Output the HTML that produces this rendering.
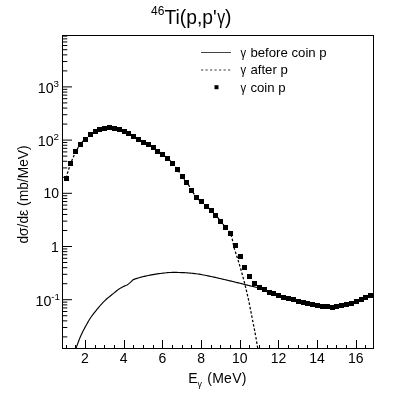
<!DOCTYPE html>
<html><head><meta charset="utf-8"><title>46Ti(p,p'γ)</title>
<style>html,body{margin:0;padding:0;background:#fff}svg{display:block;will-change:transform;filter:grayscale(1)}text{font-family:"Liberation Sans",sans-serif;fill:#000}</style></head><body>
<svg width="415" height="401" viewBox="0 0 415 401">
<rect x="0" y="0" width="415" height="401" fill="#fff"/>
<defs><clipPath id="c"><rect x="62.5" y="35.5" width="311.0" height="313.0"/></clipPath></defs>
<rect x="62.5" y="35.5" width="311.0" height="313.0" fill="none" stroke="#000" stroke-width="1" shape-rendering="crispEdges"/>
<path d="M66.50 348.5 V344.50 M75.50 348.5 V344.50 M85.50 348.5 V339.50 M95.50 348.5 V344.50 M104.50 348.5 V344.50 M114.50 348.5 V344.50 M124.50 348.5 V339.50 M133.50 348.5 V344.50 M143.50 348.5 V344.50 M153.50 348.5 V344.50 M162.50 348.5 V339.50 M172.50 348.5 V344.50 M182.50 348.5 V344.50 M191.50 348.5 V344.50 M201.50 348.5 V339.50 M211.50 348.5 V344.50 M220.50 348.5 V344.50 M230.50 348.5 V344.50 M240.50 348.5 V339.50 M249.50 348.5 V344.50 M259.50 348.5 V344.50 M269.50 348.5 V344.50 M278.50 348.5 V339.50 M288.50 348.5 V344.50 M298.50 348.5 V344.50 M307.50 348.5 V344.50 M317.50 348.5 V339.50 M327.50 348.5 V344.50 M336.50 348.5 V344.50 M346.50 348.5 V344.50 M356.50 348.5 V339.50 M365.50 348.5 V344.50" stroke="#000" stroke-width="1" fill="none" shape-rendering="crispEdges"/>
<path d="M62.5 336.89 H67.30 M62.5 327.52 H67.30 M62.5 320.87 H67.30 M62.5 315.71 H67.30 M62.5 311.50 H67.30 M62.5 307.94 H67.30 M62.5 304.86 H67.30 M62.5 302.13 H67.30 M62.5 299.70 H72.00 M62.5 283.69 H67.30 M62.5 274.32 H67.30 M62.5 267.67 H67.30 M62.5 262.51 H67.30 M62.5 258.30 H67.30 M62.5 254.74 H67.30 M62.5 251.66 H67.30 M62.5 248.93 H67.30 M62.5 246.50 H72.00 M62.5 230.49 H67.30 M62.5 221.12 H67.30 M62.5 214.47 H67.30 M62.5 209.31 H67.30 M62.5 205.10 H67.30 M62.5 201.54 H67.30 M62.5 198.46 H67.30 M62.5 195.73 H67.30 M62.5 193.30 H72.00 M62.5 177.29 H67.30 M62.5 167.92 H67.30 M62.5 161.27 H67.30 M62.5 156.11 H67.30 M62.5 151.90 H67.30 M62.5 148.34 H67.30 M62.5 145.26 H67.30 M62.5 142.53 H67.30 M62.5 140.10 H72.00 M62.5 124.09 H67.30 M62.5 114.72 H67.30 M62.5 108.07 H67.30 M62.5 102.91 H67.30 M62.5 98.70 H67.30 M62.5 95.14 H67.30 M62.5 92.06 H67.30 M62.5 89.33 H67.30 M62.5 86.90 H72.00 M62.5 70.89 H67.30 M62.5 61.52 H67.30 M62.5 54.87 H67.30 M62.5 49.71 H67.30 M62.5 45.50 H67.30 M62.5 41.94 H67.30 M62.5 38.86 H67.30 M62.5 36.13 H67.30" stroke="#000" stroke-width="1" fill="none"/>
<g clip-path="url(#c)" fill="none" stroke="#000" stroke-width="1">
<path d="M74.40 352.70 L74.91 351.29 L75.42 349.88 L75.93 348.48 L76.45 347.08 L76.96 345.67 L77.48 344.26 L77.99 342.85 L78.51 341.45 L79.05 340.05 L79.60 338.66 L80.17 337.28 L80.76 335.91 L81.38 334.55 L82.02 333.20 L82.68 331.85 L83.36 330.51 L84.05 329.18 L84.75 327.86 L85.46 326.54 L86.18 325.23 L86.90 323.92 L87.64 322.61 L88.39 321.31 L89.16 320.02 L89.95 318.75 L90.76 317.50 L91.61 316.28 L92.49 315.07 L93.41 313.89 L94.34 312.71 L95.28 311.54 L96.22 310.37 L97.16 309.21 L98.10 308.04 L99.06 306.89 L100.03 305.75 L101.01 304.63 L102.02 303.53 L103.06 302.44 L104.11 301.37 L105.18 300.32 L106.27 299.30 L107.39 298.31 L108.54 297.36 L109.72 296.43 L110.90 295.50 L112.06 294.57 L113.22 293.62 L114.38 292.67 L115.54 291.73 L116.71 290.79 L117.87 289.84 L119.06 288.93 L120.32 288.13 L121.64 287.42 L122.98 286.76 L124.35 286.14 L125.75 285.56 L127.10 284.93 L128.34 284.13 L129.50 283.18 L130.64 282.19 L131.72 281.10 L132.81 280.06 L134.04 279.34 L135.44 278.83 L136.91 278.40 L138.35 277.97 L139.79 277.56 L141.23 277.16 L142.68 276.78 L144.13 276.42 L145.59 276.08 L147.05 275.75 L148.52 275.44 L149.98 275.15 L151.46 274.88 L152.93 274.62 L154.41 274.38 L155.88 274.14 L157.36 273.90 L158.84 273.66 L160.32 273.45 L161.81 273.28 L163.30 273.12 L164.79 272.96 L166.28 272.80 L167.77 272.66 L169.26 272.54 L170.76 272.46 L172.25 272.41 L173.75 272.40 L175.24 272.41 L176.74 272.44 L178.24 272.47 L179.73 272.52 L181.23 272.57 L182.73 272.62 L184.22 272.68 L185.72 272.75 L187.21 272.84 L188.70 272.96 L190.19 273.10 L191.68 273.26 L193.17 273.42 L194.66 273.60 L196.14 273.78 L197.63 273.97 L199.10 274.19 L200.58 274.44 L202.06 274.70 L203.53 274.97 L205.00 275.25 L206.47 275.54 L207.94 275.83 L209.41 276.13 L210.87 276.44 L212.33 276.76 L213.79 277.10 L215.25 277.43 L216.71 277.78 L218.16 278.12 L219.62 278.45 L221.08 278.78 L222.54 279.12 L224.00 279.46 L225.46 279.80 L226.91 280.14 L228.37 280.48 L229.83 280.82 L231.28 281.17 L232.74 281.52 L234.19 281.87 L235.65 282.22 L237.10 282.57 L238.56 282.93 L240.01 283.29 L241.46 283.64 L242.92 284.00 L244.37 284.37 L245.82 284.73 L247.27 285.10 L248.72 285.47 L250.17 285.84 L251.62 286.20 L253.08 286.56 L254.53 286.90 L256.01 287.20 L257.49 287.49 L258.95 287.82 L260.35 288.26 L261.68 288.92 L262.99 289.68 L264.32 290.40 L265.68 291.02 L267.05 291.62 L268.43 292.20 L269.81 292.77 L271.19 293.36 L272.59 293.92 L274.00 294.40 L275.44 294.79 L276.90 295.12 L278.36 295.47 L279.79 295.89 L281.21 296.36 L282.63 296.85 L284.05 297.32 L285.48 297.77 L286.91 298.22 L288.34 298.65 L289.77 299.08 L291.21 299.50 L292.65 299.91 L294.09 300.31 L295.54 300.69 L296.98 301.08 L298.43 301.47 L299.86 301.90 L301.30 302.33 L302.74 302.73 L304.19 303.09 L305.65 303.42 L307.11 303.74 L308.57 304.06 L310.04 304.37 L311.50 304.67 L312.97 304.95 L314.45 305.22 L315.92 305.46 L317.40 305.68 L318.89 305.89 L320.37 306.07 L321.86 306.24 L323.35 306.41 L324.84 306.57 L326.32 306.72 L327.81 306.86 L329.31 307.02 L330.80 307.16 L332.29 307.20 L333.79 307.15 L335.28 307.04 L336.77 306.91 L338.25 306.70 L339.71 306.38 L341.17 306.02 L342.63 305.69 L344.09 305.34 L345.54 304.97 L346.98 304.57 L348.41 304.14 L349.84 303.69 L351.27 303.23 L352.69 302.77 L354.11 302.30 L355.53 301.83 L356.95 301.35 L358.37 300.87 L359.78 300.37 L361.18 299.84 L362.56 299.27 L363.93 298.67 L365.30 298.06 L366.66 297.44 L368.03 296.82 L369.38 296.20 L370.75 295.58 L372.12 294.99 L373.50 294.40" stroke-width="1.15"/>
<path d="M66.06 178.00 L66.45 176.55 L66.87 175.10 L67.30 173.66 L67.74 172.23 L68.19 170.80 L68.66 169.38 L69.15 167.96 L69.64 166.55 L70.14 165.14 L70.66 163.73 L71.18 162.33 L71.72 160.93 L72.27 159.54 L72.85 158.15 L73.44 156.76 L74.05 155.39 L74.68 154.03 L75.33 152.69 L76.01 151.36 L76.72 150.03 L77.45 148.72 L78.23 147.42 L79.04 146.15 L79.88 144.92 L80.77 143.74 L81.74 142.60 L82.77 141.51 L83.85 140.46 L84.95 139.42 L86.05 138.40 L87.16 137.40 L88.31 136.42 L89.47 135.48 L90.66 134.58 L91.89 133.71 L93.13 132.87 L94.41 132.08 L95.71 131.35 L97.04 130.64 L98.40 130.00 L99.79 129.44 L101.21 128.97 L102.65 128.54 L104.12 128.21 L105.59 127.97 L107.08 127.77 L108.58 127.63 L110.07 127.61 L111.57 127.74 L113.06 127.96 L114.53 128.22 L115.97 128.59 L117.40 129.07 L118.82 129.56 L120.26 130.00 L121.70 130.43 L123.13 130.87 L124.54 131.37 L125.94 131.92 L127.32 132.52 L128.66 133.17 L129.97 133.88 L131.25 134.67 L132.51 135.49 L133.77 136.31 L135.03 137.12 L136.28 137.94 L137.54 138.75 L138.82 139.54 L140.12 140.28 L141.43 141.01 L142.75 141.73 L144.06 142.44 L145.39 143.15 L146.71 143.85 L148.03 144.57 L149.33 145.31 L150.63 146.06 L151.91 146.84 L153.17 147.65 L154.40 148.50 L155.60 149.39 L156.81 150.29 L158.03 151.16 L159.28 151.99 L160.54 152.80 L161.80 153.62 L163.02 154.48 L164.20 155.40 L165.36 156.35 L166.50 157.32 L167.63 158.32 L168.74 159.32 L169.84 160.34 L170.92 161.39 L171.96 162.47 L172.95 163.58 L173.89 164.74 L174.79 165.94 L175.68 167.16 L176.55 168.38 L177.42 169.60 L178.28 170.83 L179.13 172.07 L179.96 173.32 L180.80 174.56 L181.66 175.78 L182.56 176.98 L183.49 178.16 L184.45 179.31 L185.41 180.47 L186.33 181.65 L187.20 182.86 L188.02 184.11 L188.81 185.38 L189.58 186.67 L190.35 187.96 L191.13 189.25 L191.93 190.52 L192.72 191.80 L193.50 193.10 L194.29 194.39 L195.12 195.65 L195.99 196.85 L196.95 197.96 L198.02 198.98 L199.18 199.94 L200.36 200.89 L201.52 201.86 L202.66 202.84 L203.79 203.81 L204.92 204.80 L206.05 205.78 L207.17 206.78 L208.29 207.78 L209.40 208.78 L210.50 209.80 L211.58 210.84 L212.66 211.88 L213.73 212.93 L214.78 214.01 L215.79 215.11 L216.76 216.24 L217.69 217.41 L218.60 218.61 L219.50 219.81 L220.41 221.01 L221.34 222.18 L222.28 223.35 L223.23 224.51 L224.17 225.68 L225.11 226.84 L226.06 228.01 L227.09 229.16 L228.13 230.30 L229.12 231.46 L229.97 232.65 L230.61 233.92 L231.12 235.25 L231.57 236.63 L231.97 238.06 L232.33 239.52 L232.66 241.01 L232.98 242.51 L233.29 244.01 L233.62 245.51 L233.97 247.00 L234.36 248.46 L234.78 249.89 L235.21 251.33 L235.66 252.76 L236.12 254.18 L236.59 255.61 L237.05 257.03 L237.52 258.46 L237.98 259.89 L238.44 261.31 L238.88 262.75 L239.31 264.18 L239.74 265.62 L240.16 267.06 L240.58 268.50 L240.99 269.94 L241.40 271.38 L241.81 272.82 L242.22 274.26 L242.62 275.71 L243.01 277.16 L243.40 278.60 L243.78 280.05 L244.16 281.50 L244.54 282.95 L244.90 284.40 L245.27 285.86 L245.63 287.31 L245.98 288.77 L246.33 290.23 L246.68 291.69 L247.02 293.15 L247.36 294.61 L247.69 296.07 L248.02 297.53 L248.34 298.99 L248.66 300.46 L248.98 301.92 L249.28 303.39 L249.58 304.86 L249.87 306.33 L250.16 307.80 L250.45 309.27 L250.73 310.74 L251.01 312.21 L251.30 313.69 L251.58 315.16 L251.87 316.63 L252.16 318.10 L252.45 319.57 L252.75 321.04 L253.05 322.51 L253.34 323.98 L253.64 325.45 L253.93 326.92 L254.22 328.39 L254.51 329.86 L254.79 331.33 L255.07 332.80 L255.34 334.28 L255.60 335.75 L255.86 337.23 L256.11 338.71 L256.36 340.18 L256.61 341.66 L256.85 343.14 L257.10 344.62 L257.35 346.10 L257.61 347.57 L257.87 349.05 L258.13 350.53 L258.40 352.00" stroke-dasharray="2.5 1.9" stroke-width="1.25"/>
</g>
<path d="M63.56 175.50h5v5h-5zM68.39 160.60h5v5h-5zM73.23 149.40h5v5h-5zM78.06 141.50h5v5h-5zM82.90 136.50h5v5h-5zM87.74 132.40h5v5h-5zM92.57 129.20h5v5h-5zM97.41 126.90h5v5h-5zM102.24 125.60h5v5h-5zM107.08 125.10h5v5h-5zM111.91 125.70h5v5h-5zM116.75 127.20h5v5h-5zM121.59 128.70h5v5h-5zM126.42 130.80h5v5h-5zM131.26 133.80h5v5h-5zM136.09 136.90h5v5h-5zM140.93 139.60h5v5h-5zM145.76 142.20h5v5h-5zM150.60 145.10h5v5h-5zM155.44 148.60h5v5h-5zM160.27 151.80h5v5h-5zM165.11 155.80h5v5h-5zM169.94 160.50h5v5h-5zM174.78 166.90h5v5h-5zM179.62 173.90h5v5h-5zM184.45 180.00h5v5h-5zM189.29 187.80h5v5h-5zM194.12 195.10h5v5h-5zM198.96 199.30h5v5h-5zM203.79 203.50h5v5h-5zM208.63 207.90h5v5h-5zM213.47 212.80h5v5h-5zM218.30 219.00h5v5h-5zM223.14 225.00h5v5h-5zM227.97 231.10h5v5h-5zM232.81 242.70h5v5h-5zM237.64 254.30h5v5h-5zM242.48 265.20h5v5h-5zM247.32 274.30h5v5h-5zM252.15 280.80h5v5h-5zM256.99 284.60h5v5h-5zM261.82 287.40h5v5h-5zM266.66 289.50h5v5h-5zM271.49 291.40h5v5h-5zM276.33 292.90h5v5h-5zM281.17 294.50h5v5h-5zM286.00 296.00h5v5h-5zM290.84 297.40h5v5h-5zM295.67 298.70h5v5h-5zM300.51 300.10h5v5h-5zM305.34 301.20h5v5h-5zM310.18 302.20h5v5h-5zM315.02 303.00h5v5h-5zM319.85 303.60h5v5h-5zM324.69 304.10h5v5h-5zM329.52 304.50h5v5h-5zM334.36 304.20h5v5h-5zM339.19 303.20h5v5h-5zM344.03 302.00h5v5h-5zM348.87 300.50h5v5h-5zM353.70 298.90h5v5h-5zM358.54 297.20h5v5h-5zM363.37 295.10h5v5h-5zM368.21 292.90h5v5h-5z" fill="#000" shape-rendering="crispEdges"/>
<text x="85.00" y="363.2" font-size="14" text-anchor="middle">2</text>
<text x="123.69" y="363.2" font-size="14" text-anchor="middle">4</text>
<text x="162.37" y="363.2" font-size="14" text-anchor="middle">6</text>
<text x="201.06" y="363.2" font-size="14" text-anchor="middle">8</text>
<text x="239.74" y="363.2" font-size="14" text-anchor="middle">10</text>
<text x="278.43" y="363.2" font-size="14" text-anchor="middle">12</text>
<text x="317.12" y="363.2" font-size="14" text-anchor="middle">14</text>
<text x="355.80" y="363.2" font-size="14" text-anchor="middle">16</text>
<text x="53.60" y="87.00" font-size="9.8">3</text>
<text x="53.70" y="93.00" font-size="14.3" text-anchor="end">10</text>
<text x="53.60" y="140.20" font-size="9.8">2</text>
<text x="53.70" y="146.20" font-size="14.3" text-anchor="end">10</text>
<text x="59.1" y="198.30" font-size="14" text-anchor="end">10</text>
<text x="58.9" y="251.50" font-size="14" text-anchor="end">1</text>
<text x="51.30" y="299.80" font-size="9.8">-1</text>
<text x="51.40" y="305.80" font-size="14.3" text-anchor="end">10</text>
<text x="151.0" y="15.0" font-size="12">46</text>
<text x="164.4" y="24.1" font-size="19.3">Ti(p,p'</text>
<text x="217.2" y="24.1" font-size="19.3" textLength="7.9" lengthAdjust="spacingAndGlyphs">γ</text>
<text x="225.1" y="24.1" font-size="19.3">)</text>
<text x="188.3" y="383.0" font-size="14">E</text>
<text x="197.6" y="386.6" font-size="9.5" textLength="4.4" lengthAdjust="spacingAndGlyphs">γ</text>
<text x="207.2" y="383.0" font-size="14" letter-spacing="0.3">(MeV)</text>
<g transform="translate(28.3 243.6) rotate(-90)"><text x="0" y="0" font-size="13.8">dσ/dε (mb/MeV)</text></g>
<path d="M201 52.5H231" stroke="#444" stroke-width="1" fill="none"/>
<path d="M201 70H230.5" stroke="#383838" stroke-width="1" stroke-dasharray="2.2 2.3" fill="none"/>
<rect x="214.5" y="85.2" width="4" height="4" fill="#000"/>
<text x="240.6" y="57.0" font-size="13" textLength="5.6" lengthAdjust="spacingAndGlyphs">γ</text>
<text x="250.4" y="57.0" font-size="13.2">before coin p</text>
<text x="240.6" y="74.4" font-size="13" textLength="5.6" lengthAdjust="spacingAndGlyphs">γ</text>
<text x="250.4" y="74.4" font-size="13.2">after p</text>
<text x="240.6" y="91.8" font-size="13" textLength="5.6" lengthAdjust="spacingAndGlyphs">γ</text>
<text x="250.4" y="91.8" font-size="13.2">coin p</text>
</svg></body></html>
